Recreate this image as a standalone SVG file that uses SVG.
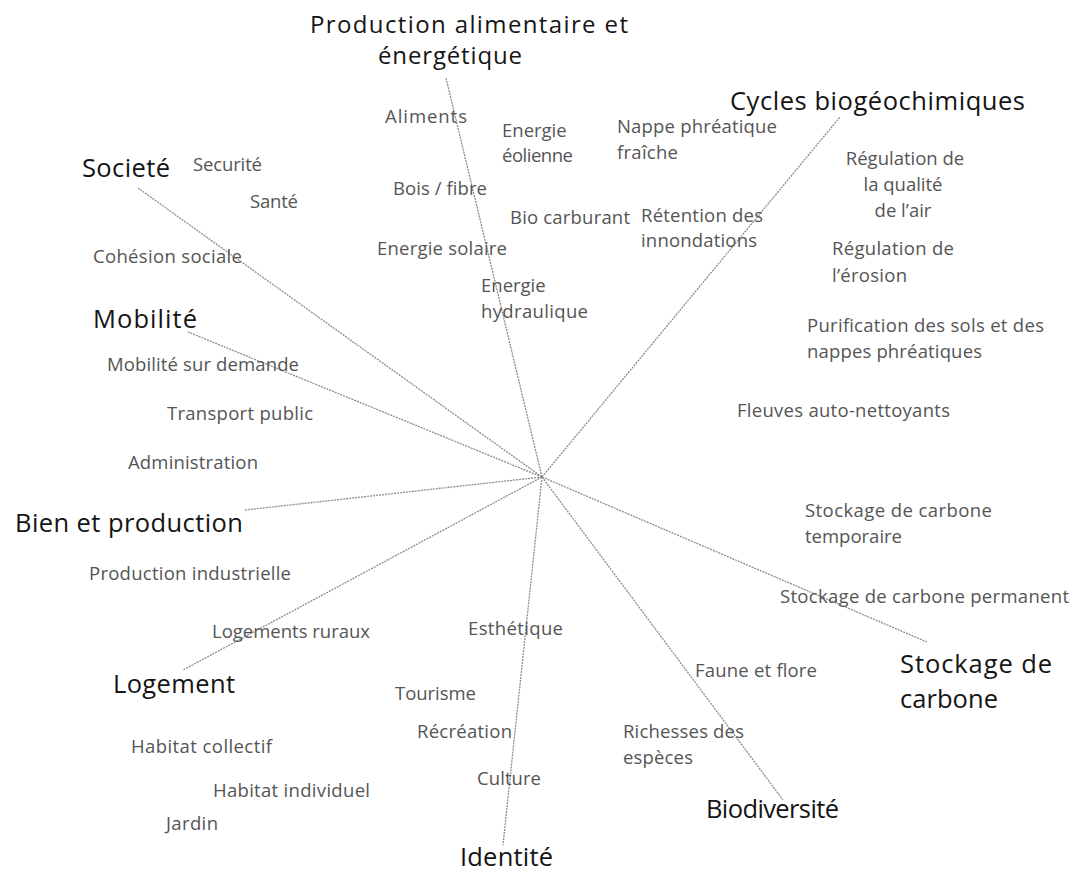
<svg xmlns="http://www.w3.org/2000/svg" width="1077" height="873" viewBox="0 0 1077 873">
<style>
text{font-family:"Open Sans","Noto Sans","Liberation Sans",sans-serif}
.cat{font-size:25.5px;fill:#151515}
.title{font-size:24px}
.sub{font-size:18.5px;fill:#555}
.ray{stroke:#8c8c8c;stroke-width:1.3;stroke-dasharray:2 1;fill:none}
</style>
<rect width="1077" height="873" fill="#fff"/>
<g id="connectors">
<line class="ray" x1="542" y1="477" x2="446" y2="78"/>
<line class="ray" x1="542" y1="477" x2="840" y2="117"/>
<line class="ray" x1="542" y1="477" x2="138" y2="188"/>
<line class="ray" x1="542" y1="477" x2="188" y2="332"/>
<line class="ray" x1="542" y1="477" x2="245" y2="510"/>
<line class="ray" x1="542" y1="477" x2="183" y2="670"/>
<line class="ray" x1="542" y1="477" x2="503" y2="845"/>
<line class="ray" x1="542" y1="477" x2="783" y2="800"/>
<line class="ray" x1="542" y1="477" x2="927" y2="642"/>
</g>
<g id="production">
<text class="cat title" x="310" y="33" textLength="318">Production alimentaire et</text>
<text class="cat title" x="378" y="64" textLength="144">énergétique</text>
</g>
<g id="cycles"><text class="cat" x="730" y="110" textLength="295">Cycles biogéochimiques</text></g>
<g id="societe"><text class="cat" x="82" y="177" textLength="88">Societé</text></g>
<g id="mobilite"><text class="cat" x="93" y="328" textLength="104">Mobilité</text></g>
<g id="bien"><text class="cat" x="15" y="532" textLength="228">Bien et production</text></g>
<g id="logement"><text class="cat" x="113" y="693" textLength="122">Logement</text></g>
<g id="identite"><text class="cat" x="460" y="866" textLength="93">Identité</text></g>
<g id="biodiversite"><text class="cat" x="706" y="818" textLength="133">Biodiversité</text></g>
<g id="stockage">
<text class="cat" x="900" y="673" textLength="152">Stockage de</text>
<text class="cat" x="900" y="708" textLength="98">carbone</text>
</g>
<g id="sub-items">
<text class="sub" x="385" y="123" textLength="82">Aliments</text>
<text class="sub" x="502" y="137">Energie</text>
<text class="sub" x="502" y="162" textLength="71">éolienne</text>
<text class="sub" x="617" y="133" textLength="160">Nappe phréatique</text>
<text class="sub" x="617" y="159" textLength="61">fraîche</text>
<text class="sub" text-anchor="middle" x="905" y="165">Régulation de</text>
<text class="sub" text-anchor="middle" x="903" y="191">la qualité</text>
<text class="sub" text-anchor="middle" x="903" y="217">de l’air</text>
<text class="sub" x="193" y="171" textLength="69">Securité</text>
<text class="sub" x="250" y="208" textLength="48">Santé</text>
<text class="sub" x="393" y="195" textLength="94">Bois / fibre</text>
<text class="sub" x="510" y="224" textLength="120">Bio carburant</text>
<text class="sub" x="641" y="222" textLength="122">Rétention des</text>
<text class="sub" x="641" y="247" textLength="116">innondations</text>
<text class="sub" x="377" y="255" textLength="130">Energie solaire</text>
<text class="sub" x="93" y="263" textLength="149">Cohésion sociale</text>
<text class="sub" x="832" y="255" textLength="122">Régulation de</text>
<text class="sub" x="832" y="282" textLength="75">l’érosion</text>
<text class="sub" x="481" y="292">Energie</text>
<text class="sub" x="481" y="318" textLength="107">hydraulique</text>
<text class="sub" x="807" y="332" textLength="237">Purification des sols et des</text>
<text class="sub" x="807" y="358" textLength="175">nappes phréatiques</text>
<text class="sub" x="107" y="371" textLength="192">Mobilité sur demande</text>
<text class="sub" x="167" y="420" textLength="146">Transport public</text>
<text class="sub" x="737" y="417" textLength="213">Fleuves auto-nettoyants</text>
<text class="sub" x="128" y="469" textLength="130">Administration</text>
<text class="sub" x="805" y="517" textLength="187">Stockage de carbone</text>
<text class="sub" x="805" y="543" textLength="97">temporaire</text>
<text class="sub" x="89" y="580" textLength="202">Production industrielle</text>
<text class="sub" x="780" y="603" textLength="289">Stockage de carbone permanent</text>
<text class="sub" x="212" y="638" textLength="158">Logements ruraux</text>
<text class="sub" x="468" y="635" textLength="95">Esthétique</text>
<text class="sub" x="695" y="677" textLength="122">Faune et flore</text>
<text class="sub" x="395" y="700" textLength="81">Tourisme</text>
<text class="sub" x="417" y="738" textLength="95">Récréation</text>
<text class="sub" x="623" y="738" textLength="121">Richesses des</text>
<text class="sub" x="623" y="764" textLength="70">espèces</text>
<text class="sub" x="131" y="753" textLength="141">Habitat collectif</text>
<text class="sub" x="477" y="785" textLength="64">Culture</text>
<text class="sub" x="213" y="797" textLength="157">Habitat individuel</text>
<text class="sub" x="166" y="830" textLength="52">Jardin</text>
</g>
</svg>
